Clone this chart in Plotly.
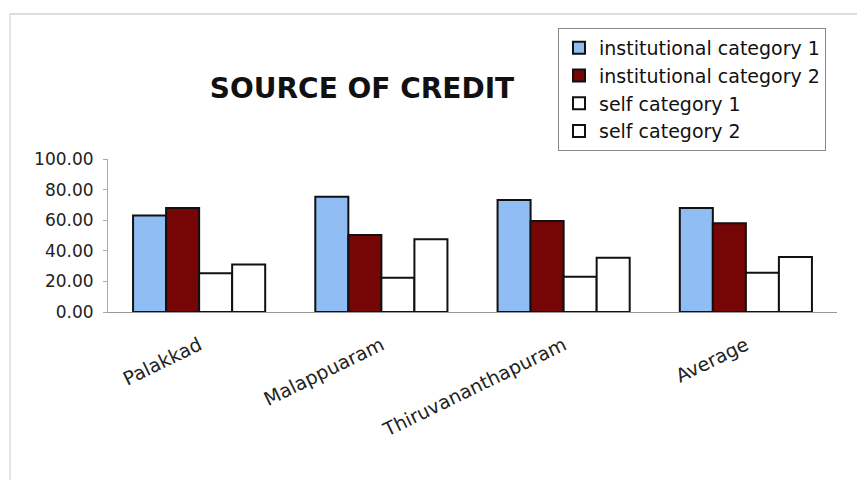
import plotly.graph_objects as go

districts = ["Palakkad", "Malappuaram", "Thiruvananthapuram", "Average"]
series_names = ["institutional category 1", "institutional category 2",
                "self category 1", "self category 2"]
inst_cat1 = [63.0, 75.4, 73.2, 68.0]
inst_cat2 = [68.0, 50.3, 59.5, 58.0]
self_cat1 = [25.3, 22.4, 23.0, 25.7]
self_cat2 = [31.0, 47.5, 35.5, 36.0]
y_ticks = [0, 20, 40, 60, 80, 100]

series_values = [inst_cat1, inst_cat2, self_cat1, self_cat2]
fills = ["#90bdf4", "#760606", "#ffffff", "#ffffff"]

# page has an 8px body margin, so work in page pixels and shift back
OFF = 8
W, H = 865, 485
L, R, T, B = 108 - OFF, 36, 159 - OFF, 485 - (312 - OFF)
pw, ph = W - L - R, H - T - B

def px(x):
    return (x - OFF - L) / pw

def py(y):
    return (H - B - (y - OFF)) / ph

FONT = "DejaVu Sans, Verdana, sans-serif"

fig = go.Figure()
for name, vals, col in zip(series_names, series_values, fills):
    fig.add_trace(go.Bar(
        x=districts, y=vals, name=name,
        marker=dict(color=col, line=dict(color="#111111", width=2)),
    ))

fig.update_layout(
    width=W, height=H,
    margin=dict(l=L, r=R, t=T, b=B),
    paper_bgcolor="white", plot_bgcolor="white",
    barmode="group", bargap=0.275, bargroupgap=0,
    font=dict(family=FONT, color="#222"),
    title=dict(text="<b>SOURCE OF CREDIT</b>", x=px(362), xref="paper",
               xanchor="center", y=1 - (88 - OFF) / H, yref="container",
               yanchor="middle", font=dict(size=28, color="#111")),
    legend=dict(x=px(558), y=py(28), xanchor="left", yanchor="top",
                bordercolor="#888", borderwidth=1, bgcolor="white",
                font=dict(size=19, color="#111"), tracegroupgap=0,
                itemwidth=30),
    showlegend=True,
)
fig.update_xaxes(showgrid=False, showline=True, linecolor="#999",
                 linewidth=1, tickangle=-26, ticks="",
                 ticklabelstandoff=14,
                 tickfont=dict(size=19, color="#222"))
fig.update_yaxes(range=[0, 100], tickvals=y_ticks,
                 ticktext=[f"{v:.2f}" for v in y_ticks],
                 showgrid=False, zeroline=False, showline=True,
                 linecolor="#aaa", linewidth=1, ticks="outside",
                 ticklen=4, tickcolor="#aaa", ticklabelstandoff=6,
                 tickfont=dict(size=17, color="#222"))

# faint top and left edges of the scanned chart frame
fig.add_shape(type="line", xref="paper", yref="paper",
              x0=px(10), x1=px(860), y0=py(14), y1=py(14),
              line=dict(color="#bbbbbb", width=1), layer="below")
fig.add_shape(type="line", xref="paper", yref="paper",
              x0=px(10), x1=px(10), y0=py(14), y1=py(480),
              line=dict(color="#cccccc", width=1), layer="below")

fig.write_html("out.html")
